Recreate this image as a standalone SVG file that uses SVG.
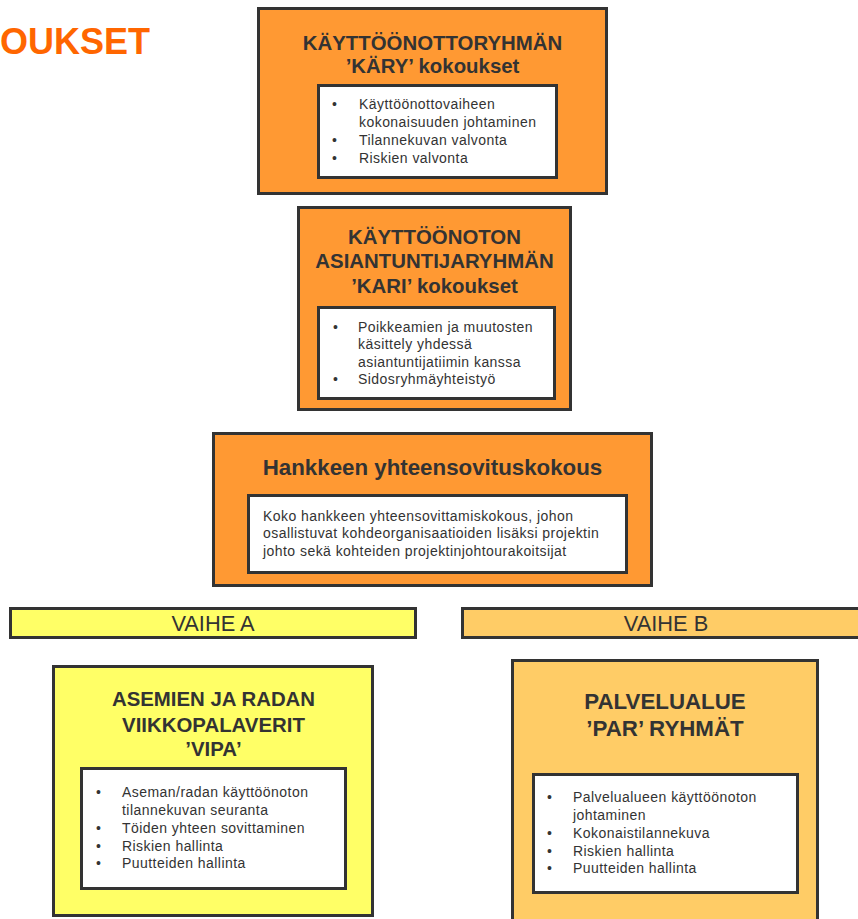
<svg xmlns="http://www.w3.org/2000/svg" width="858" height="919" viewBox="0 0 858 919">
  <style>
    .box { stroke: #333333; stroke-width: 3; }
    .orange { fill: #FF9933; }
    .yellow { fill: #FFFF66; }
    .amber { fill: #FFCC66; }
    .panel { fill: #FFFFFF; stroke: #333333; stroke-width: 3; }
    .title { font-family: "Liberation Sans", Arial, sans-serif; font-weight: bold; fill: #333333; text-anchor: middle; font-size: 20.4px; }
    .title-lg { font-size: 22.3px; }
    .body { font-family: "Liberation Sans", Arial, sans-serif; font-size: 14px; letter-spacing: 0.45px; fill: #333333; }
    .phase { font-family: "Liberation Sans", Arial, sans-serif; font-size: 21.8px; fill: #333333; text-anchor: middle; }
    .heading { font-family: "Liberation Sans", Arial, sans-serif; font-weight: bold; font-size: 36px; fill: #FF6600; }
  </style>
  <rect x="0" y="0" width="858" height="919" fill="#FFFFFF"/>

  <!-- page heading -->
  <text class="heading" x="0" y="54">OUKSET</text>

  <!-- KÄRY meetings -->
  <g id="kary">
    <rect class="box orange" x="258.5" y="8.5" width="348" height="185"/>
    <text class="title" x="432.5" y="50">KÄYTTÖÖNOTTORYHMÄN</text>
    <text class="title" x="432.5" y="73">’KÄRY’ kokoukset</text>
    <rect class="panel" x="318.5" y="85.5" width="238" height="92"/>
    <g class="body">
      <text x="332" y="109">•</text>
      <text x="359" y="109">Käyttöönottovaiheen</text>
      <text x="359" y="127">kokonaisuuden johtaminen</text>
      <text x="332" y="145">•</text>
      <text x="359" y="145">Tilannekuvan valvonta</text>
      <text x="332" y="163">•</text>
      <text x="359" y="163">Riskien valvonta</text>
    </g>
  </g>

  <!-- KARI meetings -->
  <g id="kari">
    <rect class="box orange" x="298.5" y="207.5" width="272" height="202"/>
    <text class="title" x="434.5" y="244">KÄYTTÖÖNOTON</text>
    <text class="title" x="434.5" y="268">ASIANTUNTIJARYHMÄN</text>
    <text class="title" x="434.5" y="293">’KARI’ kokoukset</text>
    <rect class="panel" x="318.5" y="307.5" width="236" height="91"/>
    <g class="body">
      <text x="333" y="332">•</text>
      <text x="358" y="332">Poikkeamien ja muutosten</text>
      <text x="358" y="349">käsittely yhdessä</text>
      <text x="358" y="367">asiantuntijatiimin kanssa</text>
      <text x="333" y="384">•</text>
      <text x="358" y="384">Sidosryhmäyhteistyö</text>
    </g>
  </g>

  <!-- project coordination meeting -->
  <g id="hankekokous">
    <rect class="box orange" x="213.5" y="433.5" width="438" height="152"/>
    <text class="title title-lg" x="432.5" y="475">Hankkeen yhteensovituskokous</text>
    <rect class="panel" x="248.5" y="495.5" width="378" height="77"/>
    <g class="body">
      <text x="263" y="521">Koko hankkeen yhteensovittamiskokous, johon</text>
      <text x="263" y="538">osallistuvat kohdeorganisaatioiden lisäksi projektin</text>
      <text x="263" y="556">johto sekä kohteiden projektinjohtourakoitsijat</text>
    </g>
  </g>

  <!-- phase bars -->
  <g id="vaihe-a">
    <rect class="box yellow" x="10.5" y="608.5" width="405" height="29"/>
    <text class="phase" x="213" y="631">VAIHE A</text>
  </g>
  <g id="vaihe-b">
    <rect class="box amber" x="462.5" y="608.5" width="400" height="29"/>
    <text class="phase" x="666" y="631">VAIHE B</text>
  </g>

  <!-- VIPA weekly meetings -->
  <g id="vipa">
    <rect class="box yellow" x="53.5" y="666.5" width="319" height="249"/>
    <text class="title" x="213.5" y="706">ASEMIEN JA RADAN</text>
    <text class="title" x="213.5" y="732">VIIKKOPALAVERIT</text>
    <text class="title" x="213.5" y="756">’VIPA’</text>
    <rect class="panel" x="81.5" y="768.5" width="264" height="120"/>
    <g class="body">
      <text x="96" y="797">•</text>
      <text x="122" y="797">Aseman/radan käyttöönoton</text>
      <text x="122" y="815">tilannekuvan seuranta</text>
      <text x="96" y="833">•</text>
      <text x="122" y="833">Töiden yhteen sovittaminen</text>
      <text x="96" y="851">•</text>
      <text x="122" y="851">Riskien hallinta</text>
      <text x="96" y="868">•</text>
      <text x="122" y="868">Puutteiden hallinta</text>
    </g>
  </g>

  <!-- PAR service area groups -->
  <g id="par">
    <rect class="box amber" x="512.5" y="660.5" width="305" height="270"/>
    <text class="title title-lg" x="665" y="709">PALVELUALUE</text>
    <text class="title title-lg" x="665" y="736">’PAR’ RYHMÄT</text>
    <rect class="panel" x="533.5" y="774.5" width="264" height="118"/>
    <g class="body">
      <text x="547" y="802">•</text>
      <text x="573" y="802">Palvelualueen käyttöönoton</text>
      <text x="573" y="820">johtaminen</text>
      <text x="547" y="838">•</text>
      <text x="573" y="838">Kokonaistilannekuva</text>
      <text x="547" y="856">•</text>
      <text x="573" y="856">Riskien hallinta</text>
      <text x="547" y="873">•</text>
      <text x="573" y="873">Puutteiden hallinta</text>
    </g>
  </g>
</svg>
